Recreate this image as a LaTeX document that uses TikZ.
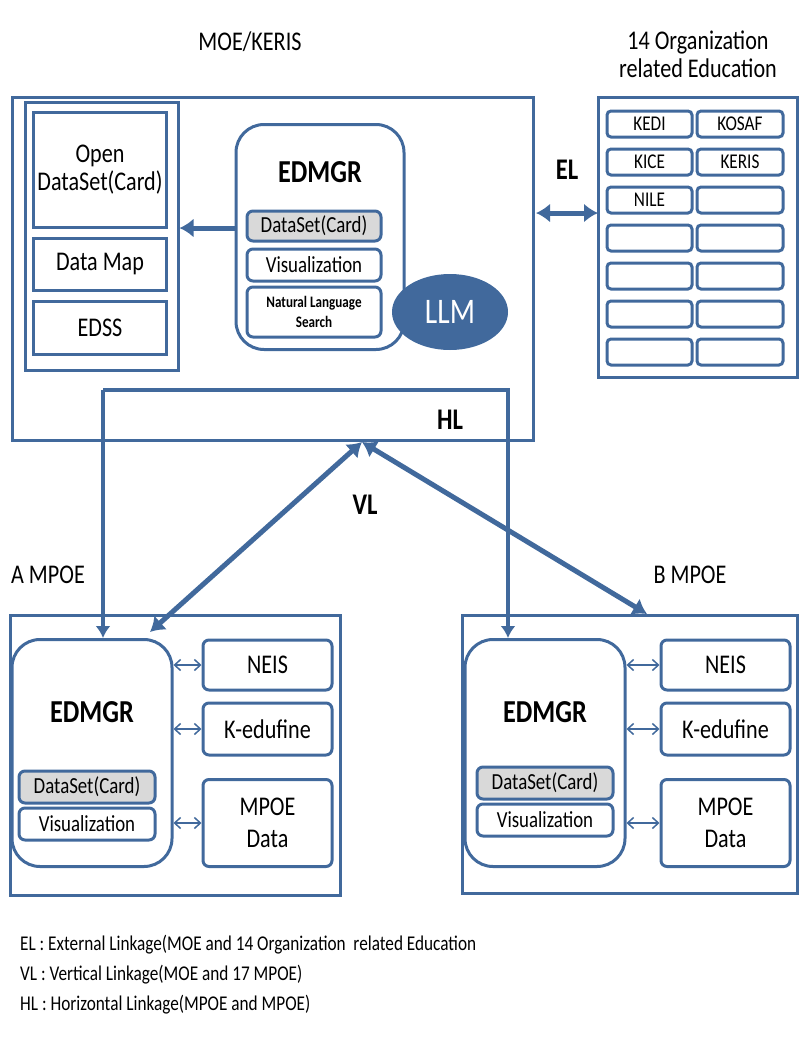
\documentclass[tikz,border=0pt]{standalone}
\usepackage{fontspec}
\setmainfont{Carlito}[FakeStretch=0.82]
\usetikzlibrary{arrows.meta,shapes.geometric}
\definecolor{bl}{HTML}{41699C}
\begin{document}
\begin{tikzpicture}[x=1pt,y=-1pt,
  box/.style={draw=bl,line width=3pt},
  rbox/.style={draw=bl,line width=3pt,rounded corners=6pt},
  big/.style={draw=bl,line width=3pt,rounded corners=28pt},
  txt/.style={font=\fontsize{27}{28}\selectfont,inner sep=0pt,align=center},
  sm/.style={font=\fontsize{21}{22}\selectfont,inner sep=0pt,align=center},
  thick arrow/.style={draw=bl,line width=5pt,{Latex[length=14pt,width=19pt]}-{Latex[length=14pt,width=19pt]}},
  thin arrow/.style={draw=bl,line width=1.5pt,{Straight Barb[length=6pt,width=11pt]}-{Straight Barb[length=6pt,width=11pt]}},
  ]
\useasboundingbox (0,0) rectangle (800,1037);
% titles
\node[txt] (t1) at (250,42) {MOE/KERIS};
\node[txt] (t2) at (698,54) {14 Organization\\related Education};
% main box
\draw[box] (12,97) rectangle (533,440);
\node[box,minimum width=153pt,minimum height=268pt,inner sep=0pt] (left) at (101.5,236) {};
\node[box,minimum width=133pt,minimum height=115pt,inner sep=0pt,txt] (open) at (100,170) {Open\\DataSet(Card)};
\node[box,minimum width=133pt,minimum height=52pt,inner sep=0pt,txt] (dmap) at (100,264) {Data Map};
\node[box,minimum width=133pt,minimum height=53pt,inner sep=0pt,txt] (edss) at (100,328) {EDSS};
\node[big,minimum width=168pt,minimum height=225pt] (edm) at (320,237) {};
\node[txt,font=\bfseries\fontsize{32}{34}\selectfont] (edmt) at (320,172) {EDMGR};
\node[rbox,fill=gray!30,minimum width=134pt,minimum height=30pt,sm,font=\fontsize{23}{24}\selectfont] (ds) at (314,226) {DataSet(Card)};
\node[rbox,minimum width=134pt,minimum height=32pt,sm,font=\fontsize{23}{24}\selectfont] (vis) at (314,265) {Visualization};
\node[rbox,minimum width=134pt,minimum height=50pt,sm,font=\bfseries\fontsize{16}{20}\selectfont] (nls) at (314,312) {Natural Language\\Search};
\node[ellipse,draw=bl,fill=bl,line width=2pt,minimum width=114pt,minimum height=74pt,text=white,txt,font=\fontsize{36}{38}\selectfont] (llm) at (450,312) {LLM};
\draw[draw=bl,line width=5pt,-{Latex[length=14pt,width=19pt]}] (edm.west |- 0,228) -- (left.east |- 0,228);
% right box
\draw[box] (598,97) rectangle (797,377);
\foreach \r in {0,...,6}{
  \node[rbox,rounded corners=4pt,minimum width=85pt,minimum height=26pt] (a\r) at (649.5,124+38*\r) {};
  \node[rbox,rounded corners=4pt,minimum width=86pt,minimum height=26pt] (b\r) at (740,124+38*\r) {};
}
\node[sm] at (a0) {KEDI};\node[sm] at (b0) {KOSAF};
\node[sm] at (a1) {KICE};\node[sm] at (b1) {KERIS};
\node[sm] at (a2) {NILE};
\coordinate (elL) at (536,213);
\coordinate (elR) at (598,213);
\draw[thick arrow] (elL) -- (elR);
\node[txt,font=\bfseries\fontsize{30}{32}\selectfont] (el) at (567,170) {EL};
% A MPOE
\node[txt] (al) at (48,575) {A MPOE};
\draw[box] (10,615) rectangle (340,895);
\node[big,minimum width=160pt,minimum height=227pt] (aedm) at (92,753) {};
\node[txt,font=\bfseries\fontsize{32}{34}\selectfont] at (92,712) {EDMGR};
\node[rbox,fill=gray!30,minimum width=136pt,minimum height=32pt,sm,font=\fontsize{23}{24}\selectfont] (ads) at (87,787) {DataSet(Card)};
\node[rbox,minimum width=136pt,minimum height=32pt,sm,font=\fontsize{23}{24}\selectfont] (avis) at (87,824) {Visualization};
\node[rbox,minimum width=129pt,minimum height=50pt,txt] (aneis) at (267.5,665) {NEIS};
\node[rbox,minimum width=129pt,minimum height=52pt,txt] (ak) at (267.5,729) {K-edufine};
\node[rbox,minimum width=129pt,minimum height=87pt,txt] (am) at (267.5,823) {MPOE\\[4pt]Data};
\draw[thin arrow] (aedm.east |- aneis) -- (aneis);
\draw[thin arrow] (aedm.east |- ak) -- (ak);
\draw[thin arrow] (aedm.east |- am) -- (am);
% B MPOE
\node[txt] (blab) at (690,575) {B MPOE};
\draw[box] (462,615) rectangle (797,893);
\node[big,minimum width=160pt,minimum height=227pt] (bedm) at (545,753) {};
\node[txt,font=\bfseries\fontsize{32}{34}\selectfont] at (545,712) {EDMGR};
\node[rbox,fill=gray!30,minimum width=136pt,minimum height=32pt,sm,font=\fontsize{23}{24}\selectfont] (bds) at (545,783) {DataSet(Card)};
\node[rbox,minimum width=136pt,minimum height=32pt,sm,font=\fontsize{23}{24}\selectfont] (bvis) at (545,820) {Visualization};
\node[rbox,minimum width=129pt,minimum height=50pt,txt] (bneis) at (725.5,665) {NEIS};
\node[rbox,minimum width=129pt,minimum height=52pt,txt] (bk) at (725.5,729) {K-edufine};
\node[rbox,minimum width=129pt,minimum height=87pt,txt] (bm) at (725.5,823) {MPOE\\[4pt]Data};
\draw[thin arrow] (bedm.east |- bneis) -- (bneis);
\draw[thin arrow] (bedm.east |- bk) -- (bk);
\draw[thin arrow] (bedm.east |- bm) -- (bm);
% HL
\coordinate (hl1) at (103,390);
\coordinate (hl2) at (508,390);
\draw[draw=bl,line width=4pt,-{Latex[length=12pt,width=15pt]}] (103,390) -- (hl2) -- (bedm.north -| hl2);
\draw[draw=bl,line width=4pt,-{Latex[length=12pt,width=15pt]}] (hl1) -- (aedm.north -| hl1);
\node[txt,font=\bfseries\fontsize{30}{32}\selectfont] (hl) at (450,420) {HL};
% VL
\coordinate (vt) at (362,442);
\coordinate (va) at (150,632);
\coordinate (vb) at (647,614);
\draw[thick arrow] (va) -- (vt);
\draw[thick arrow] (vt) -- (vb);
\node[txt,font=\bfseries\fontsize{30}{32}\selectfont] (vl) at (365,505) {VL};
% legend
\node[sm,anchor=west] (l1) at (20,945) {EL : External Linkage(MOE and 14 Organization\ \ related Education};
\node[sm,anchor=west] (l2) at (20,975) {VL : Vertical Linkage(MOE and 17 MPOE)};
\node[sm,anchor=west] (l3) at (20,1005) {HL : Horizontal Linkage(MPOE and MPOE)};
\end{tikzpicture}
\end{document}
